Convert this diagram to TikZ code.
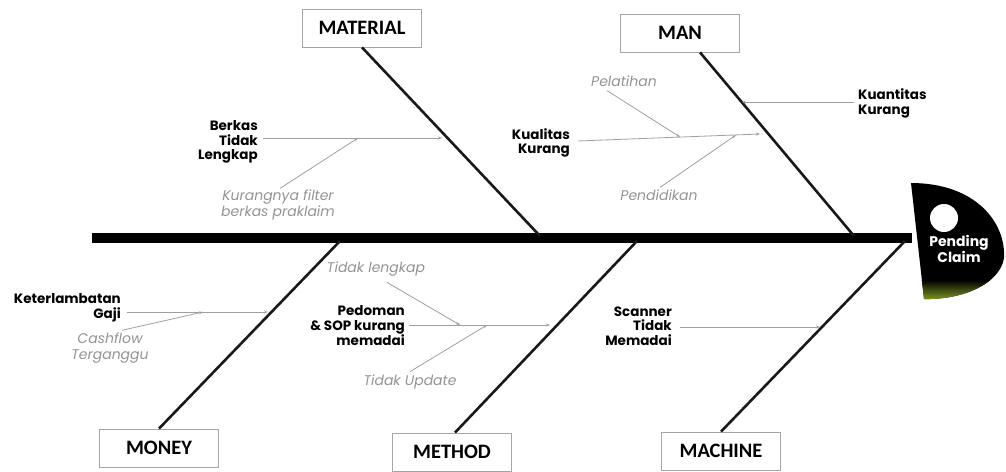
\documentclass[tikz,border=0pt]{standalone}
\usepackage{fontspec}
\setmainfont{Poppins}
\newfontfamily\boxfont{Carlito}
\usetikzlibrary{arrows.meta,calc}
\begin{document}
\begin{tikzpicture}[x=1pt,y=-1pt,
  catbox/.style={draw=gray!70,line width=0.8pt,fill=white,minimum width=119pt,minimum height=38pt,font=\boxfont\bfseries\fontsize{20.5}{20.5}\selectfont,inner sep=0pt},
  bone/.style={line width=2.6pt,black!90},
  sub/.style={draw=gray!75,line width=0.8pt,-{Stealth[length=4pt,width=3pt]}},
  cause/.style={font=\bfseries\fontsize{13.5}{14.5}\selectfont,align=right,inner sep=0pt},
  causel/.style={font=\bfseries\fontsize{13.5}{15}\selectfont,align=left,inner sep=0pt},
  minor/.style={font=\itshape\fontsize{14}{16.5}\selectfont,text=gray!85,align=center,inner sep=0pt}]
\useasboundingbox (0,0) rectangle (1006,471);
% head
\path[fill=black] (911,183) .. controls (975,183) and (1006,222) .. (1004,258) .. controls (1000,284) and (962,300) .. (924,299) -- cycle;
\begin{scope}
\clip (911,183) .. controls (975,183) and (1006,222) .. (1004,258) .. controls (1000,284) and (962,300) .. (924,299) -- cycle;
\shade[top color=black,bottom color={rgb,255:red,140;green,170;blue,40}] (900,280) rectangle (1010,302);
\end{scope}
\fill[white] (944,218) circle (14);
\node[font=\bfseries\fontsize{14}{16}\selectfont,text=white,align=center,inner sep=0pt] (effect) at (959,249) {Pending\\Claim};
% spine
\coordinate (tail) at (92,238);
\coordinate (neck) at (912,238);
\draw[line width=10pt,black] (tail) -- (neck);
% category boxes
\node[catbox] (material) at (362,28) {MATERIAL};
\node[catbox] (man) at (680,33) {MAN};
\node[catbox] (money) at (159,448) {MONEY};
\node[catbox] (method) at (452,452) {METHOD};
\node[catbox] (machine) at (721,451) {MACHINE};
% bone ends
\coordinate (jmat) at (540,236);
\coordinate (jman) at (854,236);
\coordinate (jmon) at (340,241);
\coordinate (jmet) at (637,241);
\coordinate (jmac) at (905,241);
\draw[bone] (material.south) -- (jmat);
\draw[bone] ($(man.south)+(20,0)$) -- (jman);
\draw[bone] (money.north) -- (jmon);
\draw[bone] ($(method.north)+(3,0)$) -- (jmet);
\draw[bone] (machine.north) -- (jmac);
% MATERIAL causes
\node[cause,anchor=east] (berkas) at (258,142) {Berkas\\Tidak\\Lengkap};
\coordinate (berkasStart) at (263,138);
\coordinate (berkasEnd) at (442,138);
\coordinate (berkasMid) at (358,138);
\draw[sub] (berkasStart) -- (berkasEnd);
\node[minor] (filter) at (278,205) {Kurangnya filter\\berkas praklaim};
\draw[sub] ($(filter.north)+(2,-1)$) -- (berkasMid);
% MAN causes
\node[cause,anchor=east] (kualitas) at (570,143) {Kualitas\\Kurang};
\coordinate (kualStart) at (578,141);
\coordinate (kualEnd) at (760,134);
\coordinate (kualMid1) at (680,137);
\coordinate (kualMid2) at (736,135);
\draw[sub] (kualStart) -- (kualEnd);
\node[minor] (pelatihan) at (624,81) {Pelatihan};
\draw[sub] ($(pelatihan.south)+(-17,4)$) -- (kualMid1);
\node[minor] (pendidikan) at (659,195) {Pendidikan};
\draw[sub] ($(pendidikan.north)+(1,-2)$) -- (kualMid2);
\node[causel,anchor=west] (kuantitas) at (858,103) {Kuantitas\\Kurang};
\coordinate (kuanEnd) at (742,102);
\draw[sub] ($(kuantitas.west)+(-4,-1)$) -- (kuanEnd);
% MONEY causes
\node[cause,anchor=east] (gaji) at (121,308) {Keterlambatan\\Gaji};
\coordinate (gajiStart) at (127,312);
\coordinate (gajiEnd) at (268,312);
\coordinate (gajiMid) at (203,312);
\draw[sub] (gajiStart) -- (gajiEnd);
\node[minor] (cashflow) at (110,348) {Cashflow\\Terganggu};
\draw[sub] ($(cashflow.north)+(12,-2)$) -- (gajiMid);
% METHOD causes
\node[cause,anchor=east] (pedoman) at (405,326) {Pedoman\\\& SOP kurang\\memadai};
\coordinate (pedStart) at (409,325);
\coordinate (pedEnd) at (550,325);
\coordinate (pedMid1) at (460,325);
\coordinate (pedMid2) at (487,325);
\draw[sub] (pedStart) -- (pedEnd);
\node[minor] (tlengkap) at (376,269) {Tidak lengkap};
\draw[sub] ($(tlengkap.south)+(11,6)$) -- (pedMid1);
\node[minor] (tupdate) at (410,382) {Tidak Update};
\draw[sub] ($(tupdate.north)+(0,-3)$) -- (pedMid2);
% MACHINE causes
\node[cause,anchor=east] (scanner) at (672,326) {Scanner\\Tidak\\Memadai};
\coordinate (scanStart) at (680,327);
\coordinate (scanEnd) at (820,327);
\draw[sub] (scanStart) -- (scanEnd);
\end{tikzpicture}
\end{document}
